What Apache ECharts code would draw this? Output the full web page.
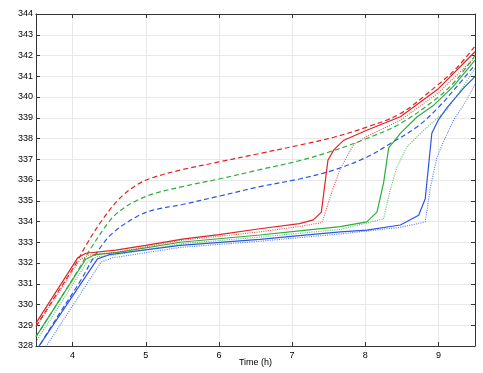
<!DOCTYPE html>
<html>
<head>
<meta charset="utf-8">
<script src="https://cdn.jsdelivr.net/npm/echarts@6/dist/echarts.min.js"></script>
<style>html,body{margin:0;padding:0;background:#fff}#c{width:483px;height:373px}</style>
</head>
<body>
<div id="c"></div>
<script>
// x: time (h), y: value
const xLabel = 'Time (h)';
const yTicks = [328, 344];
const xRange = [3.5, 9.5];

const redSolid = [[3.5,329.1],[4.07,332.25],[4.18,332.47],[4.59,332.62],[5.0,332.85],[5.5,333.15],[6.0,333.37],[6.56,333.65],[7.1,333.9],[7.29,334.08],[7.4,334.45],[7.49,336.95],[7.57,337.45],[7.7,337.9],[8.02,338.4],[8.48,339.05],[9.0,340.4],[9.5,342.18]];
const redDashed = [[3.5,328.95],[3.8,330.6],[4.05,332.0],[4.2,332.95],[4.41,334.1],[4.64,335.1],[4.87,335.75],[5.1,336.12],[5.5,336.5],[6.0,336.87],[6.56,337.28],[7.1,337.68],[7.57,338.06],[8.02,338.55],[8.48,339.2],[8.98,340.55],[9.25,341.4],[9.5,342.45]];
const redDotted = [[3.5,328.9],[4.1,332.15],[4.22,332.38],[4.6,332.52],[5.5,333.1],[6.56,333.5],[7.1,333.76],[7.41,333.95],[7.55,335.5],[7.66,336.55],[7.84,337.7],[8.02,338.1],[8.48,338.88],[9.0,340.2],[9.5,341.9]];
const greenSolid = [[3.5,328.45],[4.18,332.18],[4.3,332.4],[4.6,332.5],[5.47,333.0],[6.56,333.35],[7.1,333.55],[7.66,333.75],[8.02,333.98],[8.16,334.45],[8.25,335.85],[8.32,337.55],[8.48,338.25],[8.71,339.05],[8.94,339.62],[9.2,340.5],[9.5,341.78]];
const greenDashed = [[3.5,328.45],[3.8,330.1],[4.1,331.8],[4.23,332.6],[4.5,334.0],[4.64,334.5],[4.87,335.0],[5.1,335.33],[5.5,335.68],[6.0,336.05],[6.56,336.5],[7.1,336.93],[7.57,337.42],[8.02,338.0],[8.48,338.72],[9.0,340.0],[9.25,340.85],[9.5,342.0]];
const greenDotted = [[3.5,328.2],[4.2,332.05],[4.33,332.3],[4.6,332.4],[5.47,332.92],[6.56,333.25],[7.66,333.62],[8.25,334.12],[8.34,335.5],[8.43,336.6],[8.57,337.6],[8.8,338.4],[9.12,339.4],[9.3,340.3],[9.5,341.38]];
const blueSolid = [[3.5,327.78],[4.34,332.2],[4.5,332.4],[5.47,332.85],[6.56,333.14],[7.1,333.32],[7.66,333.5],[8.02,333.58],[8.48,333.83],[8.73,334.3],[8.82,335.1],[8.91,338.25],[9.0,338.9],[9.12,339.5],[9.35,340.45],[9.5,340.98]];
const blueDashed = [[3.5,327.75],[3.8,329.45],[4.1,331.1],[4.34,332.55],[4.55,333.45],[4.87,334.22],[5.1,334.55],[5.5,334.82],[6.0,335.22],[6.56,335.68],[7.1,336.05],[7.57,336.48],[8.02,337.1],[8.34,337.75],[8.71,338.57],[9.0,339.5],[9.25,340.5],[9.5,341.55]];
const blueDotted = [[3.5,327.23],[4.39,332.05],[4.55,332.25],[5.47,332.75],[6.56,333.05],[7.66,333.4],[8.48,333.72],[8.82,333.98],[8.89,335.65],[8.98,337.1],[9.07,337.85],[9.21,338.9],[9.35,339.65],[9.5,340.6]];

const RED = '#e02424', GREEN = '#2cad3c', BLUE = '#2a55e8';
const FONT = 'Liberation Sans';

function mk(data, color, type, smooth) {
  return {
    type: 'line', data: data, showSymbol: false, symbol: 'none', smooth: smooth ? 0.35 : false,
    clip: true, animation: false,
    lineStyle: { color: color, width: type === 'dotted' ? 1.1 : 1.2, type: type === 'dashed' ? [5, 3] : (type === 'dotted' ? [1, 1.3] : 'solid'), opacity: type === 'dotted' ? 0.8 : 1 }
  };
}

const chart = echarts.init(document.getElementById('c'), null, { renderer: 'canvas' });
const axisLine = { show: true, lineStyle: { color: '#333', width: 1 } };
chart.setOption({
  animation: false,
  backgroundColor: '#fff',
  grid: { left: 36, right: 8, top: 14, bottom: 27, containLabel: false, outerBoundsMode: 'none' },
  xAxis: [{
    type: 'value', min: xRange[0], max: xRange[1],
    name: xLabel, nameLocation: 'middle', nameGap: 12, nameMoveOverlap: false,
    nameTextStyle: { fontFamily: FONT, fontSize: 9, color: '#000' },
    axisLine: axisLine,
    axisTick: { show: true, inside: true, length: 4, lineStyle: { color: '#333' } },
    axisLabel: { fontFamily: FONT, fontSize: 9, color: '#000', margin: 5, showMinLabel: false, showMaxLabel: false },
    splitLine: { show: true, lineStyle: { color: '#e8e8e8', width: 1 } }
  }, {
    type: 'value', position: 'top', min: xRange[0], max: xRange[1],
    axisLine: axisLine,
    axisTick: { show: true, inside: true, length: 4, lineStyle: { color: '#333' } },
    axisLabel: { show: false }, splitLine: { show: false }
  }],
  yAxis: [{
    type: 'value', min: yTicks[0], max: yTicks[1], interval: 1,
    axisLine: axisLine,
    axisTick: { show: true, inside: true, length: 4, lineStyle: { color: '#333' } },
    axisLabel: { fontFamily: FONT, fontSize: 9, color: '#000', margin: 3 },
    splitLine: { show: true, lineStyle: { color: '#e8e8e8', width: 1 } }
  }, {
    type: 'value', position: 'right', min: yTicks[0], max: yTicks[1], interval: 1,
    axisLine: axisLine,
    axisTick: { show: true, inside: true, length: 4, lineStyle: { color: '#333' } },
    axisLabel: { show: false }, splitLine: { show: false }
  }],
  series: [
    mk(blueDotted, BLUE, 'dotted'),
    mk(blueDashed, BLUE, 'dashed', true),
    mk(blueSolid, BLUE, 'solid'),
    mk(greenDotted, GREEN, 'dotted'),
    mk(greenDashed, GREEN, 'dashed', true),
    mk(greenSolid, GREEN, 'solid'),
    mk(redDotted, RED, 'dotted'),
    mk(redDashed, RED, 'dashed', true),
    mk(redSolid, RED, 'solid')
  ]
});
</script>
</body>
</html>
